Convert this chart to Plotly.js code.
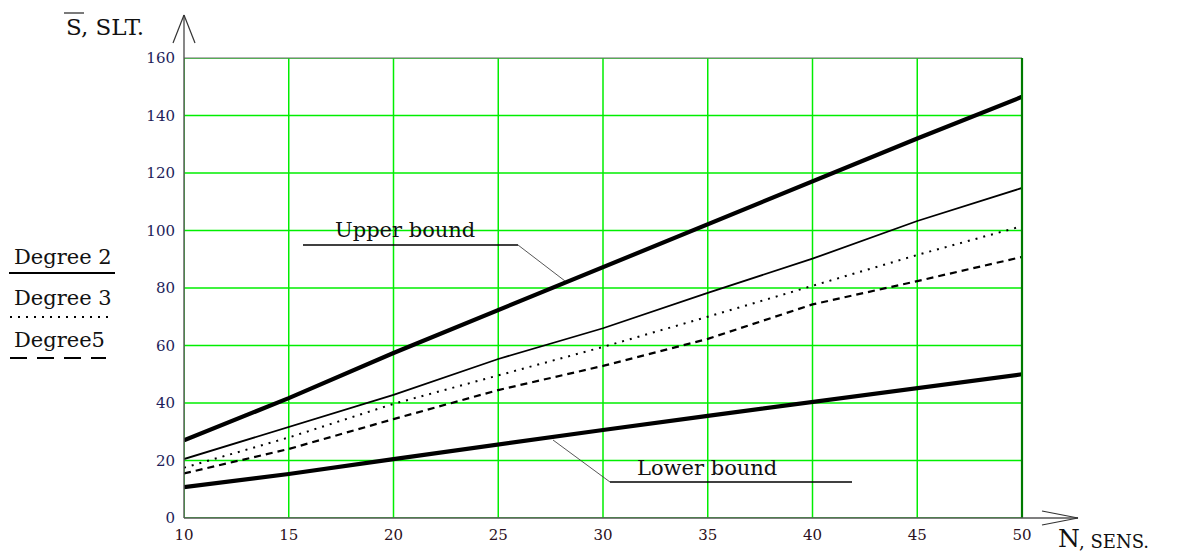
<!DOCTYPE html>
<html>
<head>
<meta charset="utf-8">
<script src="https://cdn.plot.ly/plotly-3.0.1.min.js"></script>
<style>
html,body{margin:0;padding:0;background:#fff;}
#chart{width:1188px;height:554px;}
</style>
</head>
<body>
<div id="chart"></div>
<script>
// ---- data ----
const N = [10, 15, 20, 25, 30, 35, 40, 45, 50];
const upperBound = [27, 41.7, 57.4, 72.3, 87.3, 102.3, 117.2, 132, 146.5];
const lowerBound = [10.7, 15.3, 20.5, 25.7, 30.6, 35.5, 40.3, 45.2, 50];
const degree2 = [20.5, 31.7, 42.8, 55.3, 66, 78.3, 90.2, 103.3, 114.8];
const degree3 = [17.5, 28, 39.7, 49.7, 59.5, 70, 80.7, 91.5, 101.5];
const degree5 = [15.5, 24, 34.4, 44.5, 52.9, 62.3, 74.3, 82.4, 90.8];
const xTicks = [10, 15, 20, 25, 30, 35, 40, 45, 50];
const yTicks = [0, 20, 40, 60, 80, 100, 120, 140, 160];
const legendNames = ['Degree 2', 'Degree 3', 'Degree5'];
const yTitle = 'S, SLT.';
const xTitleMain = 'N';
const xTitleSub = ', SENS.';
const upperLabel = 'Upper bound';
const lowerLabel = 'Lower bound';

// ---- layout geometry (pixels) ----
const W = 1188, H = 554;
const L = 184, R = 1022, T = 58, B = 518;
const px = x => (x - L) / (R - L);
const py = y => (B - y) / (B - T);
const SERIF = 'DejaVu Serif, Liberation Serif, serif';
const GRID = '#00ee00';

function seg(x0, y0, x1, y1, color, width, dash) {
  return {type: 'line', xref: 'paper', yref: 'paper',
    x0: px(x0), y0: py(y0), x1: px(x1), y1: py(y1),
    line: {color: color, width: width, dash: dash || 'solid'}, layer: 'above'};
}
function label(x, y, text, size, xanchor, color) {
  return {xref: 'paper', yref: 'paper', x: px(x), y: py(y), text: text,
    showarrow: false, xanchor: xanchor || 'center', yanchor: 'middle',
    font: {family: SERIF, size: size, color: color || '#111'}};
}

const traces = [
  {x: N, y: upperBound, mode: 'lines', line: {color: '#000', width: 4.2}, name: upperLabel},
  {x: N, y: degree2, mode: 'lines', line: {color: '#000', width: 1.8}, name: legendNames[0]},
  {x: N, y: degree3, mode: 'lines', line: {color: '#000', width: 2, dash: '2px,6px'}, name: legendNames[1]},
  {x: N, y: degree5, mode: 'lines', line: {color: '#000', width: 2.2, dash: '7px,5px'}, name: legendNames[2]},
  {x: N, y: lowerBound, mode: 'lines', line: {color: '#000', width: 4.2}, name: lowerLabel}
];

// grid lines drawn at the tick values (data coordinates)
const gridShapes = [];
xTicks.forEach(v => gridShapes.push({type: 'line', xref: 'x', yref: 'paper', x0: v, x1: v, y0: 0, y1: 1,
  line: {color: GRID, width: 1.5}, layer: 'below'}));
yTicks.forEach(v => gridShapes.push({type: 'line', xref: 'paper', yref: 'y', x0: 0, x1: 1, y0: v, y1: v,
  line: {color: GRID, width: 1.6}, layer: 'below'}));

const shapes = gridShapes.concat([
  // top border and right border
  seg(L, T, R, T, '#6a6a6a', 1.2),
  seg(R, T, R, B, '#007a00', 2.2),
  // y axis with arrow
  seg(L, B, L, 15, '#555', 1.4),
  seg(173, 43, L, 15, '#333', 1.2),
  seg(195, 43, L, 15, '#333', 1.2),
  // x axis with arrow
  seg(L, B, 1078, B, '#555', 1.4),
  seg(1042, 511, 1078, B, '#333', 1.2),
  seg(1042, 525, 1078, B, '#333', 1.2),
  // overline over S
  seg(64, 13, 84, 13, '#222', 1.2),
  // legend strokes
  seg(9, 273, 115, 273, '#000', 2),
  seg(10, 317, 112, 317, '#000', 2, '2px,6px'),
  seg(10, 358, 106, 358, '#000', 2.2, '17px,10px'),
  // Upper bound leader
  seg(303, 245, 518, 245, '#000', 1.4),
  seg(518, 245, 565, 281, '#444', 0.9),
  // Lower bound leader
  seg(553, 440, 610, 482, '#444', 0.9),
  seg(610, 482, 852, 482, '#000', 1.4)
]);

const annotations = [
  label(64, 27, yTitle, 23, 'left'),
  label(1056, 538, xTitleMain, 25, 'left'),
  label(1077, 541, xTitleSub, 18, 'left'),
  label(12, 257, legendNames[0], 21, 'left'),
  label(12, 298, legendNames[1], 21, 'left'),
  label(12, 340, legendNames[2], 21, 'left'),
  label(405, 230, upperLabel, 21, 'center'),
  label(707, 468, lowerLabel, 21, 'center')
];

const layout = {
  width: W, height: H,
  margin: {l: L, r: W - R, t: T, b: H - B, pad: 0},
  paper_bgcolor: '#fff', plot_bgcolor: '#fff',
  showlegend: false,
  xaxis: {
    range: [10, 50], tickvals: xTicks, ticktext: xTicks.map(String),
    showgrid: false, zeroline: false, showline: false, ticks: '',
    ticklabelstandoff: 6,
    tickfont: {family: SERIF, size: 15, color: '#2a1020'},
    fixedrange: true
  },
  yaxis: {
    range: [0, 160], tickvals: yTicks, ticktext: yTicks.map(String),
    showgrid: false, zeroline: false, showline: false, ticks: '',
    ticklabelstandoff: 8,
    tickfont: {family: SERIF, size: 15, color: '#1e1e5a'},
    fixedrange: true
  },
  shapes: shapes,
  annotations: annotations
};

Plotly.newPlot('chart', traces, layout, {staticPlot: true, displayModeBar: false});
</script>
</body>
</html>
